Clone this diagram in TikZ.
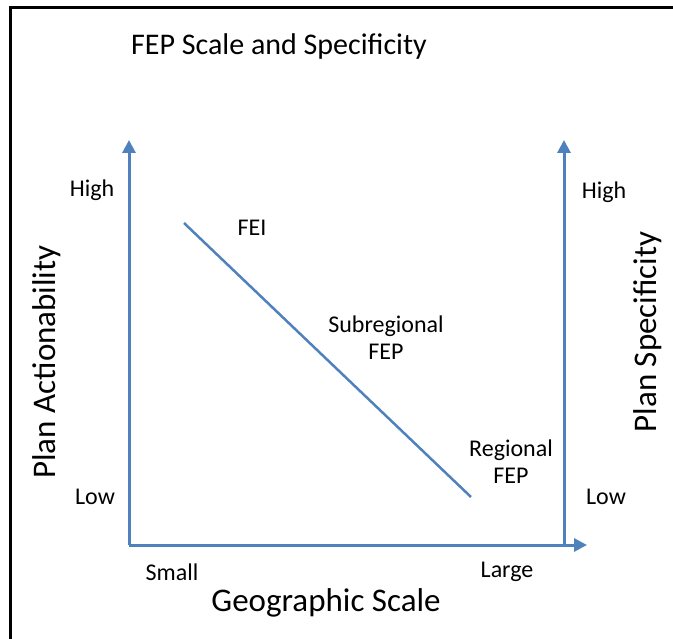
\documentclass[tikz,border=0pt]{standalone}
\usepackage{fontspec}
\setmainfont{Carlito}
\usetikzlibrary{arrows.meta,positioning}
\definecolor{axisblue}{RGB}{79,129,189}

\tikzset{
  axis/.style={draw=axisblue, line width=3pt, -{Triangle[width=13pt,length=13pt]}},
  trend/.style={draw=axisblue, line width=2.5pt},
  lbl/.style={font=\fontsize{24}{27}\selectfont, align=center, inner sep=0pt},
  bigtxt/.style={font=\fontsize{33}{40}\selectfont, inner sep=0pt},
}

\begin{document}
\begin{tikzpicture}[x=1pt, y=-1pt]
  \useasboundingbox (0,0) rectangle (673,639);
  % frame (only top and left edges are in view)
  \draw[line width=3pt] (10.5,639) -- (10.5,8) -- (673,8);

  \node[font=\fontsize{30}{36}\selectfont, inner sep=0pt] (title) at (279,47) {FEP Scale and Specificity};

  % axes
  \coordinate (origin) at (129,545);
  \coordinate (ytop) at (129,140);
  \coordinate (xend) at (587,545);
  \coordinate (rbase) at (564,545);
  \coordinate (rtop) at (564,140);
  \draw[axis] (origin) -- (ytop);
  \draw[axis] (origin) -- (xend);
  \draw[axis] (rbase) -- (rtop);

  % trend line
  \coordinate (fei) at (184,223);
  \coordinate (reg) at (471,497);
  \draw[trend] (fei) -- (reg);

  % tick labels
  \node[lbl] (hiL) at (92,190) {High};
  \node[lbl] (loL) at (95,497) {Low};
  \node[lbl] (hiR) at (604,192) {High};
  \node[lbl] (loR) at (606,497) {Low};
  \node[lbl] (small) at (172,572) {Small};
  \node[lbl] (large) at (507,572) {Large};

  % plan labels
  \node[lbl] (feiL) at (252,228) {FEI};
  \node[lbl] (subL) at (386,338) {Subregional\\FEP};
  \node[lbl] (regL) at (511,462) {Regional\\FEP};

  % axis titles
  \node[bigtxt, rotate=90] (actn) at (47,362) {Plan Actionability};
  \node[bigtxt, rotate=90] (spec) at (648,332) {Plan Specificity};
  \node[bigtxt] (geo) at (326,603) {Geographic Scale};
\end{tikzpicture}
\end{document}
